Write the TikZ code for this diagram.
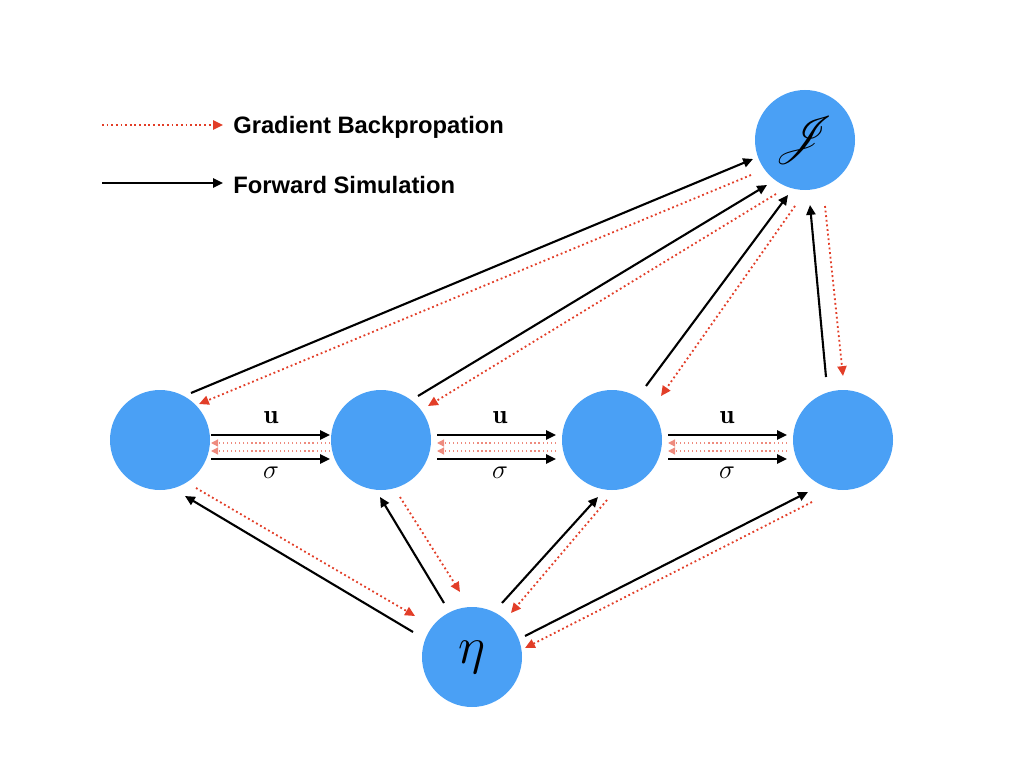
\RequirePackage{fix-cm}
\documentclass[tikz,border=0pt]{standalone}
\usepackage{fontspec}
\usepackage{graphicx}
\usepackage{amsmath}
\usepackage{mathrsfs}
\newfontfamily\legendfont{Liberation Sans}
\usetikzlibrary{arrows.meta}
\definecolor{nodeblue}{RGB}{74,160,245}
\definecolor{gradred}{RGB}{226,62,40}
\tikzset{
  state/.style={circle, fill=nodeblue, minimum size=100*0.025cm, inner sep=0pt},
  fwd/.style={black, line width=1.5pt, -{Triangle[length=7pt,width=6.5pt]}},
  bwd/.style={gradred, line width=1.3pt, dotted, -{Triangle[length=7pt,width=6.5pt]}},
  bwdthin/.style={gradred!60, line width=0.9pt, dotted, -{Triangle[length=5pt,width=5pt]}, },
  legend/.style={font=\legendfont\bfseries\fontsize{16.9}{19}\selectfont, anchor=west, inner sep=0pt},
  lbl/.style={font=\fontsize{19}{21}\selectfont, inner sep=0pt}
}
\begin{document}
\begin{tikzpicture}[x=0.025cm, y=-0.025cm]
\useasboundingbox (0,0) rectangle (1024,768);
% nodes
\node[state] (n1) at (160,440) {};
\node[state] (n2) at (381,440) {};
\node[state] (n3) at (612,440) {};
\node[state] (n4) at (843,440) {};
\node[state, font=\fontsize{24.88}{28}\selectfont] (J) at (805,140) {\scalebox{1.38}{$\mathscr{J}$}};
\node[state, font=\fontsize{37}{42}\selectfont] (eta) at (472,657) {$\eta$};
% legend
\coordinate (lg1a) at (102,125); \coordinate (lg1b) at (223,125);
\coordinate (lg2a) at (102,183); \coordinate (lg2b) at (223,183);
\draw[bwd] (lg1a) -- (lg1b);
\draw[fwd] (lg2a) -- (lg2b);
\node[legend] (lt1) at (233,127) {Gradient Backpropation};
\node[legend] (lt2) at (233,185) {Forward Simulation};
% horizontal chains
\foreach \a/\b/\xs/\xe/\xm in {n1/n2/211/330/271, n2/n3/437/556/500, n3/n4/668/787/727}{
  \draw[fwd] (\xs,435) -- (\xe,435);
  \draw[bwdthin] (\xe,443) -- (\xs,443);
  \draw[bwdthin] (\xe,451) -- (\xs,451);
  \draw[fwd] (\xs,459) -- (\xe,459);
  \node[lbl] at (\xm,418) {$\mathbf{u}$};
  \node[lbl] at (\xm,473) {$\sigma$};
}
% to J
\coordinate (a1) at (191,393); \coordinate (a2) at (753,159);
\coordinate (b1) at (751,175); \coordinate (b2) at (199,404);
\draw[fwd] (a1) -- (a2);
\draw[bwd] (b1) -- (b2);
\coordinate (c1) at (418,396); \coordinate (c2) at (767,185);
\coordinate (d1) at (776,194); \coordinate (d2) at (428,406);
\draw[fwd] (c1) -- (c2);
\draw[bwd] (d1) -- (d2);
\coordinate (e1) at (646,386); \coordinate (e2) at (788,195);
\coordinate (f1) at (795,206); \coordinate (f2) at (661,396);
\draw[fwd] (e1) -- (e2);
\draw[bwd] (f1) -- (f2);
\coordinate (g1) at (826,377); \coordinate (g2) at (810,205);
\coordinate (h1) at (825,206); \coordinate (h2) at (843,376);
\draw[fwd] (g1) -- (g2);
\draw[bwd] (h1) -- (h2);
% eta
\coordinate (i1) at (413,632); \coordinate (i2) at (185,496);
\coordinate (j1) at (196,488); \coordinate (j2) at (415,616);
\draw[fwd] (i1) -- (i2);
\draw[bwd] (j1) -- (j2);
\coordinate (k1) at (444,603); \coordinate (k2) at (380,497);
\coordinate (l1) at (400,497); \coordinate (l2) at (460,592);
\draw[fwd] (k1) -- (k2);
\draw[bwd] (l1) -- (l2);
\coordinate (m1) at (502,603); \coordinate (m2) at (598,497);
\coordinate (o1) at (607,500); \coordinate (o2) at (511,613);
\draw[fwd] (m1) -- (m2);
\draw[bwd] (o1) -- (o2);
\coordinate (p1) at (525,636); \coordinate (p2) at (808,492);
\coordinate (q1) at (812,502); \coordinate (q2) at (525,648);
\draw[fwd] (p1) -- (p2);
\draw[bwd] (q1) -- (q2);
\end{tikzpicture}
\end{document}
